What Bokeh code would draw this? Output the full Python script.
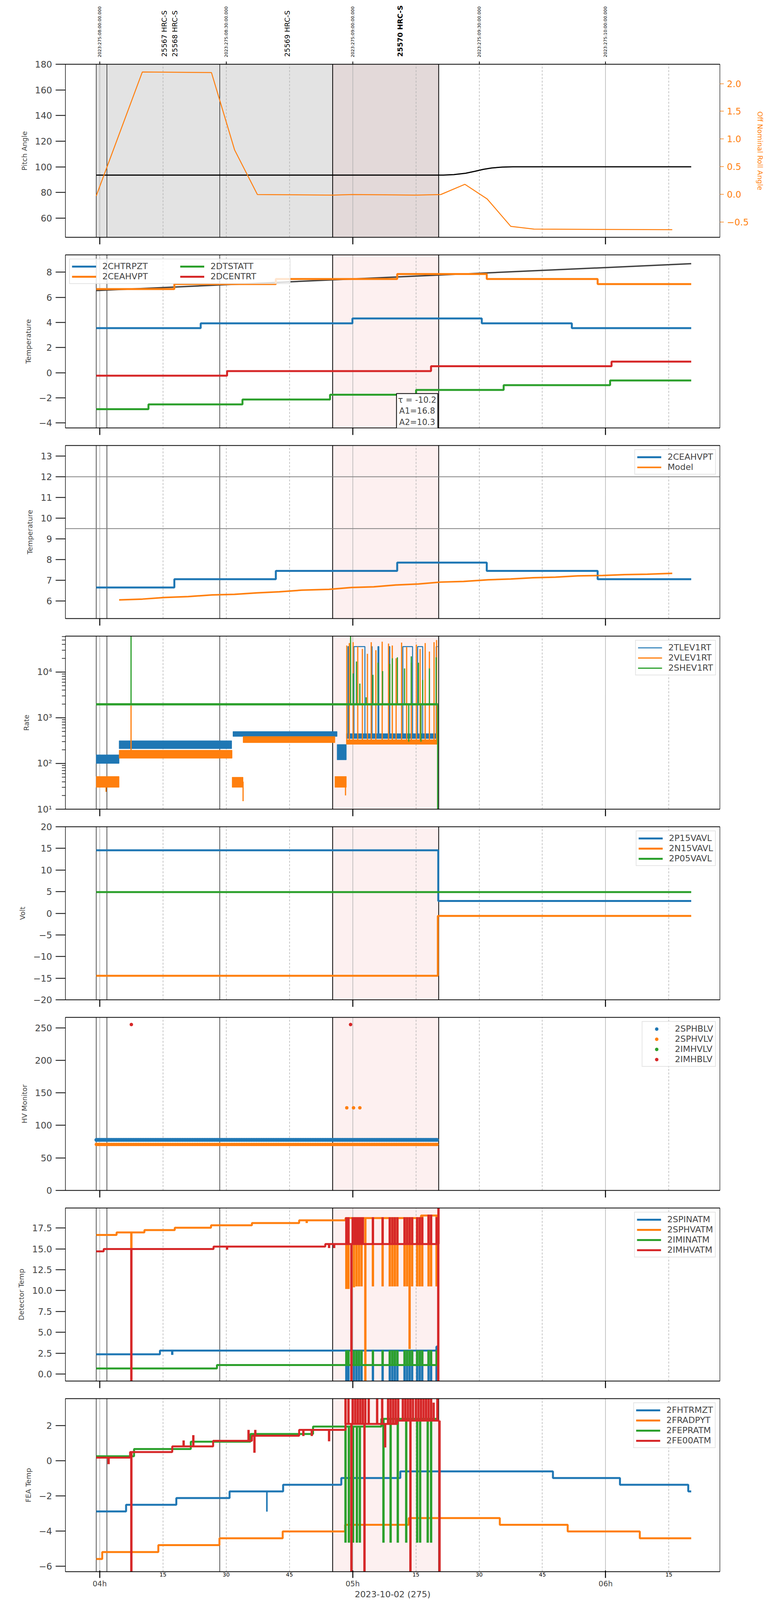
import numpy as np
from math import pi
from bokeh.plotting import figure
from bokeh.models import (Range1d, LinearAxis, FixedTicker, Span, BoxAnnotation,
                          Legend, LegendItem, Label)
from bokeh.layouts import column
from bokeh.embed import file_html
from bokeh.resources import INLINE
from bokeh.core.properties import value

FONT = "DejaVu Sans"
BLUE, ORANGE, GREEN, RED = "#1f77b4", "#ff7f0e", "#2ca02c", "#d62728"

# ---------------- time axis: minutes after 2023-10-02 04:00 (= 2023:275:08:00 UTC) -------------
x_start, x_end = -8.14, 147.1
hour_ticks = [0, 60, 120]
hour_labels = ["04h", "05h", "06h"]
quarter_ticks = [15, 30, 45, 75, 90, 105, 135]
quarter_labels = ["15", "30", "45", "15", "30", "45", "15"]
date_ticks = [0, 30, 60, 90, 120]
date_labels = ["2023:275:08:00:00.000", "2023:275:08:30:00.000", "2023:275:09:00:00.000",
               "2023:275:09:30:00.000", "2023:275:10:00:00.000"]
obsid_x = [15.3, 17.8, 44.5]
obsid_text = ["25567 HRC-S", "25568 HRC-S", "25569 HRC-S"]
cur_obsid_x = [71.2]
cur_obsid_text = ["25570 HRC-S"]
obs_edges = [-0.83, 1.70, 28.47, 55.25, 80.4]
obs_edge_w = [1.3, 1.3, 1.3, 2.0, 2.0]

# ---------------- panel 1: pitch / roll ----------------
pitch_t = [-0.83, 81.5, 84.0, 86.8, 89.0, 91.0, 93.0, 95.5, 98.0, 140.3]
pitch_v = [93.5, 93.5, 93.9, 95.0, 96.5, 98.0, 99.1, 99.8, 100.0, 100.0]
roll_t = [-0.83, 10.1, 26.5, 32.0, 37.4, 55.2, 59.9, 75.0, 80.9, 86.6, 91.9, 97.5, 103.0, 135.8]
roll_v = [-0.03, 2.21, 2.20, 0.80, -0.005, -0.015, -0.005, -0.015, -0.005, 0.18, -0.085, -0.58, -0.63, -0.64]
p1_yticks = [60, 80, 100, 120, 140, 160, 180]
p1_ylabels = ["60", "80", "100", "120", "140", "160", "180"]
p1_rticks = [-0.5, 0.0, 0.5, 1.0, 1.5, 2.0]
p1_rlabels = ["\u22120.5", "0.0", "0.5", "1.0", "1.5", "2.0"]

# ---------------- panel 2: temperatures ----------------
chtrpzt_t = [-0.83, 23.95, 59.94, 90.62, 111.98, 140.3]
chtrpzt_v = [3.55, 3.93, 4.32, 3.93, 3.55, 3.55]
ceahvpt_t = [-0.83, 17.70, 41.77, 70.56, 91.8, 118.1, 140.3]
ceahvpt_v = [6.66, 7.06, 7.46, 7.86, 7.46, 7.06, 7.06]
dtstatt_t = [-0.83, 11.56, 33.86, 54.63, 75.04, 95.81, 121.06, 140.3]
dtstatt_v = [-2.90, -2.52, -2.13, -1.75, -1.37, -0.99, -0.61, -0.61]
dcentrt_t = [-0.83, 30.21, 78.58, 121.4, 140.3]
dcentrt_v = [-0.23, 0.13, 0.52, 0.89, 0.89]
trend_t = [-0.83, 140.3]
trend_v = [6.54, 8.68]
tau_text = "\u03c4 = -10.2\nA1=16.8\nA2=10.3"
tau_x, tau_y = 75.3, -3.05
p2_yticks = [-4, -2, 0, 2, 4, 6, 8]
p2_ylabels = ["\u22124", "\u22122", "0", "2", "4", "6", "8"]

# ---------------- panel 3: 2CEAHVPT vs model ----------------
model_t = [4.6, 10.15, 15.46, 21.0, 26.67, 31.98, 37.29, 42.6, 47.9, 54.4, 59.7, 65.0, 70.3,
           75.6, 80.9, 86.3, 92.15, 97.5, 102.8, 108.1, 113.4, 119.3, 124.6, 129.9, 135.8]
model_v = [6.06, 6.10, 6.18, 6.22, 6.30, 6.33, 6.40, 6.45, 6.53, 6.57, 6.66, 6.69, 6.78,
           6.83, 6.92, 6.95, 7.03, 7.07, 7.13, 7.16, 7.22, 7.24, 7.28, 7.30, 7.34]
p3_limits = [12.0, 9.5]
p3_yticks = [6, 7, 8, 9, 10, 11, 12, 13]
p3_ylabels = ["6", "7", "8", "9", "10", "11", "12", "13"]

# ---------------- panel 4: rates (noise bands + spikes) ----------------
tlev_band_t0 = [-0.83, 4.6, 31.6, 56.3, 58.5]
tlev_band_t1 = [4.6, 31.3, 56.3, 58.5, 80.2]
tlev_band_lo = [100, 210, 390, 120, 350]
tlev_band_hi = [155, 315, 500, 260, 450]
tlev_tog_t = [58.5, 58.9, 59.1, 60.3, 62.9, 64.4, 64.6, 66.0, 66.2, 68.6, 68.8, 71.9, 74.2, 75.4, 76.6, 79.8, 80.2]
tlev_tog_v = [400, 36000, 400, 36000, 400, 36000, 400, 36000, 400, 36000, 400, 36000, 400, 36000, 400, 36000, 36000]
vlev_band_t0 = [-0.83, 4.6, 31.4, 34.0, 55.8, 58.5]
vlev_band_t1 = [4.6, 31.4, 34.0, 55.8, 58.5, 80.2]
vlev_band_lo = [30, 130, 30, 285, 30, 262]
vlev_band_hi = [52, 195, 50, 390, 52, 330]
vlev_spk_t = [1.5, 7.43, 34.0, 58.3, 58.6, 59.2, 60.1, 61.2, 62.3, 63.5, 64.4, 65.5, 67.0, 68.5, 69.4,
              70.3, 71.6, 72.8, 73.9, 75.1, 76.0, 77.2, 78.2, 79.3, 79.9]
vlev_spk_b = [40, 160, 40, 40, 290, 290, 290, 290, 290, 290, 290, 290, 290, 290, 290,
              290, 290, 290, 290, 290, 290, 290, 290, 290, 290]
vlev_spk_v = [24, 1850, 15, 20, 38000, 43000, 45000, 36000, 32000, 25000, 45000, 30000, 46000, 42000, 38000,
              20000, 44000, 35000, 16000, 40000, 32000, 43000, 28000, 45000, 50000]
shev_band_t0 = [-0.83]
shev_band_t1 = [80.2]
shev_band_lo = [1880]
shev_band_hi = [2060]
shev_spk_t = [7.43, 59.5, 60.1, 60.9, 61.7, 63.2, 64.8, 66.0, 67.1, 68.8, 69.4, 70.6, 72.3, 73.3,
              73.9, 75.6, 76.2, 76.6, 78.2, 79.8, 80.15]
shev_spk_b = [1950] * 21
shev_spk_v = [70000, 70000, 9300, 17000, 5600, 2800, 8700, 16000, 10500, 15000, 20000, 21000, 12000, 300,
              22000, 16000, 300, 6700, 12000, 21000, 5]
p4_yticks = [10, 100, 1000, 10000]
p4_ylabels = ["10\u00b9", "10\u00b2", "10\u00b3", "10\u2074"]
p4_minor = [m * d for d in [10, 100, 1000, 10000] for m in range(2, 10)]

# ---------------- panel 5: voltages ----------------
p15_t = [-0.83, 80.3, 140.3]
p15_v = [14.55, 2.85, 2.85]
n15_t = [-0.83, 80.2, 140.3]
n15_v = [-14.45, -0.6, -0.6]
p05_t = [-0.83, 140.3]
p05_v = [4.9, 4.9]
p5_yticks = [-20, -15, -10, -5, 0, 5, 10, 15, 20]
p5_ylabels = ["\u221220", "\u221215", "\u221210", "\u22125", "0", "5", "10", "15", "20"]

# ---------------- panel 6: HV monitors (dense telemetry, 0.4 min sampling) ----------------
hv_t0, hv_t1, hv_dt = -0.8, 80.2, 0.4
sphblv_level = 77.7
sphvlv_level = 70.7
sphvlv_extra_t = [58.6, 60.2, 61.7]
sphvlv_extra_v = [127, 127, 127]
imhvlv_t, imhvlv_v = [float("nan")], [float("nan")]
imhblv_t = [7.5, 59.5]
imhblv_v = [255, 255]
p6_yticks = [0, 50, 100, 150, 200, 250]
p6_ylabels = ["0", "50", "100", "150", "200", "250"]

# ---------------- panel 7: detector temps ----------------
spinatm_t = [-0.83, 14.28, 79.9, 80.2]
spinatm_v = [2.37, 2.81, 3.3, 3.3]
sphvatm_t = [-0.83, 4.0, 10.6, 17.8, 26.4, 36.1, 47.3, 58.3, 76.2, 80.2]
sphvatm_v = [16.67, 16.97, 17.26, 17.54, 17.83, 18.10, 18.42, 18.70, 19.00, 19.00]
iminatm_t = [-0.83, 27.8, 80.2]
iminatm_v = [0.67, 1.08, 1.08]
imhvatm_t = [-0.83, 0.94, 27.0, 53.5, 80.2]
imhvatm_v = [14.70, 14.98, 15.28, 15.58, 15.58]
det_tog_t = [58.5, 59.0, 60.3, 60.9, 61.5, 62.1, 64.8, 67.1, 68.8, 69.4, 70.0, 70.6, 72.3, 72.9,
             73.5, 74.1, 75.3, 75.9, 76.5, 78.0, 78.6, 79.9]
spinatm_spk_t = [17.2] + det_tog_t
spinatm_spk_v = [2.3] + [-1.0] * 22
sphvatm_spk_t = [7.5, 49.1, 63.0, 73.5] + det_tog_t
sphvatm_spk_v = [15.03, 18.1, -1.0, 3.0, 10.2, 10.2, 10.4, 10.5, 10.5, 10.5, 10.5, 10.5, 10.5, 10.5,
                 10.5, 10.5, 10.5, 10.5, 10.5, 10.5, 10.5, 10.5, 10.5, 10.5, 10.5, 10.5]
iminatm_spk_t = det_tog_t
iminatm_spk_v = [2.85] * 22
imhvatm_spk_t = [7.5, 30.2, 54.4, 55.6, 59.7, 60.0, 60.6, 61.2, 61.8, 62.4, 80.3, 80.35] + det_tog_t
imhvatm_spk_v = [-1.0, 14.9, 15.1, 15.1, -1.0, 18.8, 18.8, 18.8, 18.8, 18.8, -1.0, 21.0,
                 18.8, 18.8, 18.8, 18.8, 18.8, 18.8, 18.8, 18.8, 18.8, 18.8, 18.8, 18.8, 18.8, 18.8,
                 18.8, 18.8, 18.8, 18.8, 18.8, 19.1, 19.1, 18.8]
p7_yticks = [0.0, 2.5, 5.0, 7.5, 10.0, 12.5, 15.0, 17.5]
p7_ylabels = ["0.0", "2.5", "5.0", "7.5", "10.0", "12.5", "15.0", "17.5"]

# ---------------- panel 8: FEA temps ----------------
fhtrmzt_t = [-0.83, 6.25, 18.17, 30.8, 43.5, 57.3, 71.3, 107.5, 123.4, 139.6, 140.3]
fhtrmzt_v = [-2.89, -2.51, -2.13, -1.75, -1.37, -0.99, -0.61, -0.99, -1.37, -1.75, -1.75]
fradpyt_t = [-0.83, 0.59, 13.9, 28.4, 43.4, 58.2, 73.3, 94.9, 111.0, 128.1, 140.3]
fradpyt_v = [-5.60, -5.20, -4.81, -4.42, -4.03, -3.65, -3.27, -3.65, -4.03, -4.42, -4.42]
fepratm_t = [-0.83, 8.14, 21.6, 35.75, 50.6, 66.8, 80.2]
fepratm_v = [0.25, 0.66, 1.08, 1.52, 1.94, 2.38, 2.38]
fe00atm_t = [-0.83, 7.2, 17.2, 26.9, 36.1, 47.3, 58.3, 70.6, 80.6]
fe00atm_v = [0.17, 0.49, 0.81, 1.13, 1.42, 1.75, 2.09, 2.28, 2.28]
fhtrmzt_spk_t = [39.65]
fhtrmzt_spk_v = [-2.9]
fepratm_spk_t = [58.3, 59.1, 60.1, 61.0, 61.7, 67.3, 69.0, 70.7, 72.7, 75.3, 76.0, 77.8, 78.6]
fepratm_spk_v = [-4.67] * 13
fe00atm_spk_t = [2.1, 7.5, 19.9, 22.2, 35.3, 36.7, 36.9, 48.3, 50.3, 54.4, 59.7, 62.8, 67.7, 73.7, 80.6,
                 58.3, 59.0, 60.0, 60.6, 61.2, 61.8, 62.4, 63.0, 63.8, 65.8, 67.0, 68.4, 69.0, 69.6,
                 70.2, 70.8, 71.9, 72.5, 73.1, 73.7, 74.3, 75.0, 75.6, 76.2, 76.8, 77.4, 78.0, 78.6, 79.2, 80.1]
fe00atm_spk_v = [-0.2, -7.0, 1.15, 1.45, 1.75, 0.45, 1.75, 1.4, 1.4, 1.1, -7.0, -7.0, 0.75, -7.0, -7.0,
                 4.0, 4.0, 4.0, 4.0, 4.0, 4.0, 4.0, 4.0, 4.0, 4.0, 4.0, 4.0, 4.0, 4.0,
                 4.0, 4.0, 4.0, 4.0, 4.0, 4.0, 4.0, 4.0, 4.0, 4.0, 4.0, 4.0, 4.0, 4.0, 3.3, 4.0]
p8_yticks = [-6, -4, -2, 0, 2]
p8_ylabels = ["\u22126", "\u22124", "\u22122", "0", "2"]

# =====================================================================================
# layout: the browser viewport is 4096 px tall, so the 6200 px tall original is compressed
# vertically (x positions kept as in the original)
XR = Range1d(x_start, x_end)
FIG_W = 2000
ML, MR = 167, 157
HDR_H = 148
P1_H, P1_TOP = 501, 16
P_H, P_TOP, P_BOT = 488, 3, 42
P8_H, P8_BOT = 519, 73
TICK_F = "23px"
YLAB_F = "18px"
STEP_W = 5
SPK_W = 6


def level_at(ts, vs, t):
    i = int(np.searchsorted(ts, t, side="right")) - 1
    return vs[max(i, 0)]


def spikes(p, ts, vs, sp_t, sp_v, color, width):
    base = [level_at(ts, vs, t) for t in sp_t]
    return p.segment(x0=sp_t, y0=base, x1=sp_t, y1=sp_v, line_color=color, line_width=width)


def make_panel(yr, ylabel, yticks, ylabels, height=P_H, top=P_TOP, bottom=P_BOT, ytype="linear",
               minor=None, panel1=False):
    p = figure(width=FIG_W, height=height, x_range=XR, y_range=yr, y_axis_type=ytype,
               output_backend="svg", toolbar_location=None,
               min_border_left=ML, min_border_right=MR, min_border_top=top, min_border_bottom=bottom)
    p.outline_line_color = "black"
    p.outline_line_width = 1.2
    p.ygrid.grid_line_color = None
    g = p.xgrid[0]
    g.ticker = FixedTicker(ticks=hour_ticks, minor_ticks=quarter_ticks)
    g.grid_line_color = "#b0b0b0"
    g.grid_line_width = 1.5
    g.minor_grid_line_color = "#b0b0b0"
    g.minor_grid_line_width = 1.5
    g.minor_grid_line_dash = "5 4"

    ya = p.left[0]
    ya.ticker = FixedTicker(ticks=yticks, minor_ticks=minor or [])
    ya.major_label_overrides = dict(zip(yticks, ylabels))
    ya.major_label_text_font = FONT
    ya.major_label_text_font_size = TICK_F
    ya.major_label_standoff = 9
    ya.major_tick_out = 25
    ya.major_tick_in = 0
    ya.major_tick_line_width = 2
    if minor:
        ya.minor_tick_out = 9
        ya.minor_tick_in = 0
        ya.minor_tick_line_width = 1.5
    else:
        ya.minor_tick_line_color = None
    ya.axis_line_width = 1.2
    ya.axis_label = ylabel
    ya.axis_label_text_font = FONT
    ya.axis_label_text_font_size = YLAB_F
    ya.axis_label_text_font_style = "normal"
    ya.axis_label_standoff = 14

    xa = p.below[0]
    xa.ticker = FixedTicker(ticks=hour_ticks)
    xa.major_label_text_color = None
    xa.major_label_text_font_size = "1px"
    xa.major_label_standoff = 0
    xa.major_tick_out = 18
    xa.major_tick_in = 0
    xa.major_tick_line_width = 2.5
    xa.minor_tick_line_color = None
    xa.minor_tick_out = 0
    xa.axis_line_width = 2

    ta = LinearAxis(ticker=FixedTicker(ticks=date_ticks if panel1 else []),
                    major_tick_out=7 if panel1 else 0, major_tick_in=0, major_tick_line_width=2,
                    minor_tick_line_color=None, minor_tick_out=0, axis_line_width=2,
                    major_label_text_font_size="1px", major_label_text_color=None,
                    major_label_standoff=0)
    p.add_layout(ta, "above")

    if panel1:
        p.add_layout(BoxAnnotation(left=obs_edges[0], right=obs_edges[3], fill_color="#e3e3e3",
                                   fill_alpha=1.0, line_color=None, level="image"))
        p.add_layout(BoxAnnotation(left=obs_edges[3], right=obs_edges[4], fill_color="#e3d9d9",
                                   fill_alpha=1.0, line_color=None, level="image"))
    else:
        p.add_layout(BoxAnnotation(left=obs_edges[3], right=obs_edges[4], fill_color="#fdf0f0",
                                   fill_alpha=1.0, line_color=None, level="image"))
    for e, w in zip(obs_edges, obs_edge_w):
        p.add_layout(Span(location=e, dimension="height", line_color="black", line_width=w,
                          level="underlay"))
    return p


def add_legend(p, items, loc, ncols=None, label_width=None):
    leg = Legend(items=[LegendItem(label=l, renderers=[r]) for l, r in items], location=loc)
    leg.label_text_font = FONT
    leg.label_text_font_size = "22px"
    leg.glyph_width = 62
    leg.glyph_height = 20
    leg.label_height = 20
    leg.label_standoff = 16
    leg.spacing = 1
    leg.padding = 5
    leg.margin = 10
    leg.border_line_color = "#cccccc"
    leg.border_line_width = 2
    leg.background_fill_alpha = 0.8
    if ncols:
        leg.ncols = ncols
    if label_width:
        leg.label_width = label_width
    p.add_layout(leg)


# ---------------- header (obsid and date labels) ----------------
hdr = figure(width=FIG_W, height=HDR_H, x_range=XR, y_range=Range1d(0, HDR_H),
             output_backend="svg", toolbar_location=None, x_axis_location=None, y_axis_location=None,
             min_border_left=ML, min_border_right=MR, min_border_top=0, min_border_bottom=0)
hdr.outline_line_color = None
hdr.grid.visible = False
hdr.text(x=date_ticks, y=[2] * len(date_ticks), text=date_labels, angle=pi / 2,
         text_align="left", text_baseline="middle", text_font=value(FONT),
         text_font_size="11px", text_color="black")
hdr.text(x=obsid_x, y=[3] * len(obsid_x), text=obsid_text, angle=pi / 2,
         text_align="left", text_baseline="middle", text_font=value(FONT),
         text_font_size="18px", text_color="black")
hdr.text(x=cur_obsid_x, y=[3], text=cur_obsid_text, angle=pi / 2,
         text_align="left", text_baseline="middle", text_font=value(FONT),
         text_font_size="18px", text_font_style="bold", text_color="black")

# ---------------- panel 1 ----------------
p1 = make_panel(Range1d(45, 180), "Pitch Angle", p1_yticks, p1_ylabels,
                height=P1_H, top=P1_TOP, panel1=True)
p1.extra_y_ranges = {"roll": Range1d(-0.778, 2.35)}
p1.line(pitch_t, pitch_v, line_color="black", line_width=3)
p1.line(roll_t, roll_v, line_color=ORANGE, line_width=2.5, y_range_name="roll")
ra = LinearAxis(y_range_name="roll", ticker=FixedTicker(ticks=p1_rticks, minor_ticks=[]),
                major_label_overrides=dict(zip(p1_rticks, p1_rlabels)),
                axis_label="Off Nominal Roll Angle")
ra.axis_line_color = None
ra.major_tick_out = 10
ra.major_tick_in = 0
ra.major_tick_line_color = ORANGE
ra.major_tick_line_width = 1.5
ra.minor_tick_line_color = None
ra.minor_tick_out = 0
ra.major_label_text_color = ORANGE
ra.major_label_text_font = FONT
ra.major_label_text_font_size = TICK_F
ra.major_label_standoff = 8
ra.axis_label_text_color = ORANGE
ra.axis_label_text_font = FONT
ra.axis_label_text_font_size = YLAB_F
ra.axis_label_text_font_style = "normal"
ra.axis_label_standoff = 16
p1.add_layout(ra, "right")

# ---------------- panel 2 ----------------
p2 = make_panel(Range1d(-4.39, 9.38), "Temperature", p2_yticks, p2_ylabels)
p2.line(trend_t, trend_v, line_color="#404040", line_width=3.5)
r21 = p2.step(chtrpzt_t, chtrpzt_v, mode="after", line_color=BLUE, line_width=STEP_W)
r22 = p2.step(ceahvpt_t, ceahvpt_v, mode="after", line_color=ORANGE, line_width=STEP_W)
r23 = p2.step(dtstatt_t, dtstatt_v, mode="after", line_color=GREEN, line_width=STEP_W)
r24 = p2.step(dcentrt_t, dcentrt_v, mode="after", line_color=RED, line_width=STEP_W)
add_legend(p2, [("2CHTRPZT", r21), ("2CEAHVPT", r22), ("2DTSTATT", r23), ("2DCENTRT", r24)],
           "top_left", ncols=2, label_width=198)
p2.add_layout(Label(x=tau_x, y=tau_y, text=tau_text, text_align="center", text_baseline="middle",
                    text_font=FONT, text_font_size="21px", border_line_color="black",
                    border_line_width=2, background_fill_color="white", background_fill_alpha=1.0,
                    padding=4))

# ---------------- panel 3 ----------------
p3 = make_panel(Range1d(5.16, 13.51), "Temperature", p3_yticks, p3_ylabels)
for lim in p3_limits:
    p3.add_layout(Span(location=lim, dimension="width", line_color="gray", line_width=2))
r31 = p3.step(ceahvpt_t, ceahvpt_v, mode="after", line_color=BLUE, line_width=STEP_W)
r32 = p3.line(model_t, model_v, line_color=ORANGE, line_width=4)
add_legend(p3, [("2CEAHVPT", r31), ("Model", r32)], "top_right")

# ---------------- panel 4 ----------------
p4 = make_panel(Range1d(10, 61000), "Rate", p4_yticks, p4_ylabels, ytype="log", minor=p4_minor,
                height=P_H - 11, bottom=P_BOT - 11)
p4.quad(left=tlev_band_t0, right=tlev_band_t1, bottom=tlev_band_lo, top=tlev_band_hi,
        fill_color=BLUE, line_color=BLUE, line_width=1)
r41 = p4.step(tlev_tog_t, tlev_tog_v, mode="after", line_color=BLUE, line_width=2.5)
p4.quad(left=vlev_band_t0, right=vlev_band_t1, bottom=vlev_band_lo, top=vlev_band_hi,
        fill_color=ORANGE, line_color=ORANGE, line_width=1)
r42 = p4.segment(x0=vlev_spk_t, y0=vlev_spk_b, x1=vlev_spk_t, y1=vlev_spk_v,
                 line_color=ORANGE, line_width=3)
p4.quad(left=shev_band_t0, right=shev_band_t1, bottom=shev_band_lo, top=shev_band_hi,
        fill_color=GREEN, line_color=GREEN, line_width=1)
r43 = p4.segment(x0=shev_spk_t, y0=shev_spk_b, x1=shev_spk_t, y1=shev_spk_v,
                 line_color=GREEN, line_width=3)
add_legend(p4, [("2TLEV1RT", r41), ("2VLEV1RT", r42), ("2SHEV1RT", r43)], "top_right")

# ---------------- panel 5 ----------------
p5 = make_panel(Range1d(-20, 20), "Volt", p5_yticks, p5_ylabels,
                height=P_H + 11, top=P_TOP + 11)
r51 = p5.step(p15_t, p15_v, mode="after", line_color=BLUE, line_width=STEP_W)
r52 = p5.step(n15_t, n15_v, mode="after", line_color=ORANGE, line_width=STEP_W)
r53 = p5.step(p05_t, p05_v, mode="after", line_color=GREEN, line_width=STEP_W)
add_legend(p5, [("2P15VAVL", r51), ("2N15VAVL", r52), ("2P05VAVL", r53)], "top_right")

# ---------------- panel 6 ----------------
p6 = make_panel(Range1d(0, 266), "HV Monitor", p6_yticks, p6_ylabels)
hv_t = np.arange(hv_t0, hv_t1 + 1e-6, hv_dt)
r61 = p6.scatter(hv_t, [sphblv_level] * len(hv_t), size=9, color=BLUE)
r62 = p6.scatter(list(hv_t) + sphvlv_extra_t, [sphvlv_level] * len(hv_t) + sphvlv_extra_v,
                 size=8, color=ORANGE)
r63 = p6.scatter(imhvlv_t, imhvlv_v, size=8, color=GREEN)
r64 = p6.scatter(imhblv_t, imhblv_v, size=8, color=RED)
add_legend(p6, [("2SPHBLV", r61), ("2SPHVLV", r62), ("2IMHVLV", r63), ("2IMHBLV", r64)], "top_right")

# ---------------- panel 7 ----------------
p7 = make_panel(Range1d(-0.84, 19.9), "Detector Temp", p7_yticks, p7_ylabels)
r71 = p7.step(spinatm_t, spinatm_v, mode="after", line_color=BLUE, line_width=STEP_W)
spikes(p7, spinatm_t, spinatm_v, spinatm_spk_t, spinatm_spk_v, BLUE, SPK_W)
r72 = p7.step(sphvatm_t, sphvatm_v, mode="after", line_color=ORANGE, line_width=STEP_W)
spikes(p7, sphvatm_t, sphvatm_v, sphvatm_spk_t, sphvatm_spk_v, ORANGE, SPK_W)
r73 = p7.step(iminatm_t, iminatm_v, mode="after", line_color=GREEN, line_width=STEP_W)
spikes(p7, iminatm_t, iminatm_v, iminatm_spk_t, iminatm_spk_v, GREEN, SPK_W)
r74 = p7.step(imhvatm_t, imhvatm_v, mode="after", line_color=RED, line_width=STEP_W)
spikes(p7, imhvatm_t, imhvatm_v, imhvatm_spk_t, imhvatm_spk_v, RED, SPK_W)
add_legend(p7, [("2SPINATM", r71), ("2SPHVATM", r72), ("2IMINATM", r73), ("2IMHVATM", r74)], "top_right")

# ---------------- panel 8 ----------------
p8 = make_panel(Range1d(-6.32, 3.53), "FEA Temp", p8_yticks, p8_ylabels, height=P8_H, bottom=P8_BOT)
r81 = p8.step(fhtrmzt_t, fhtrmzt_v, mode="after", line_color=BLUE, line_width=STEP_W)
spikes(p8, fhtrmzt_t, fhtrmzt_v, fhtrmzt_spk_t, fhtrmzt_spk_v, BLUE, 4)
r82 = p8.step(fradpyt_t, fradpyt_v, mode="after", line_color=ORANGE, line_width=STEP_W)
r83 = p8.step(fepratm_t, fepratm_v, mode="after", line_color=GREEN, line_width=STEP_W)
spikes(p8, fepratm_t, fepratm_v, fepratm_spk_t, fepratm_spk_v, GREEN, SPK_W)
r84 = p8.step(fe00atm_t, fe00atm_v, mode="after", line_color=RED, line_width=STEP_W)
spikes(p8, fe00atm_t, fe00atm_v, fe00atm_spk_t, fe00atm_spk_v, RED, SPK_W)
add_legend(p8, [("2FHTRMZT", r81), ("2FRADPYT", r82), ("2FEPRATM", r83), ("2FE00ATM", r84)], "top_right")

# bottom time axes: quarter-hour labels next to the frame, hour ticks + labels below them
xq = p8.below[0]
xq.ticker = FixedTicker(ticks=quarter_ticks)
xq.major_label_overrides = dict(zip(quarter_ticks, quarter_labels))
xq.major_label_text_color = "black"
xq.major_label_text_font = FONT
xq.major_label_text_font_size = "14px"
xq.major_label_standoff = 2
xq.major_tick_out = 0
xq.major_tick_in = 0
xq.minor_tick_out = 0
xh = LinearAxis(ticker=FixedTicker(ticks=hour_ticks),
                major_label_overrides=dict(zip(hour_ticks, hour_labels)),
                axis_label="2023-10-02 (275)")
xh.axis_line_color = None
xh.major_tick_in = 18
xh.major_tick_out = 1
xh.major_tick_line_width = 2.5
xh.minor_tick_line_color = None
xh.minor_tick_out = 0
xh.major_label_text_font = FONT
xh.major_label_text_font_size = "19px"
xh.major_label_standoff = 3
xh.axis_label_text_font = FONT
xh.axis_label_text_font_size = "22px"
xh.axis_label_text_font_style = "normal"
xh.axis_label_standoff = 1
p8.add_layout(xh, "below")

layout = column(hdr, p1, p2, p3, p4, p5, p6, p7, p8)
open("out.html", "w").write(file_html(layout, INLINE))
